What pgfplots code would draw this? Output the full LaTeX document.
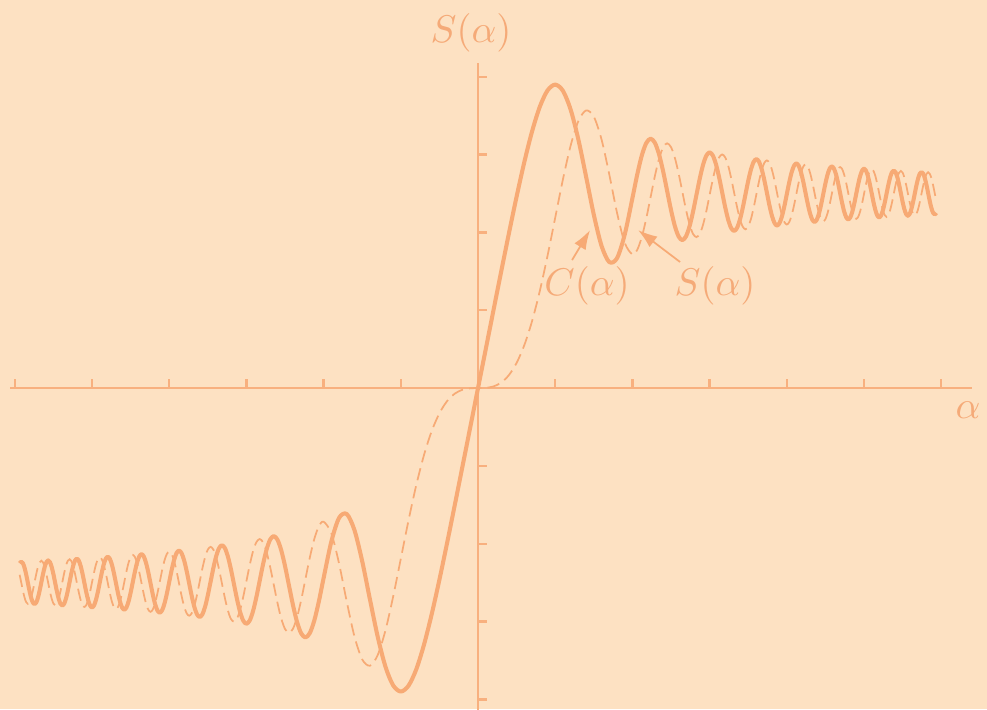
\documentclass[border=0pt]{standalone}
\usepackage{pgfplots}
\usepackage{pgfplotstable}
\pgfplotsset{compat=1.18}
\usetikzlibrary{backgrounds,arrows.meta}
\definecolor{bgcol}{RGB}{253,225,194}
\definecolor{linecol}{RGB}{247,170,117}
\definecolor{axiscol}{RGB}{248,176,127}
\definecolor{textcol}{RGB}{245,170,120}
\pgfplotstableread{
x C S
-5.9372 -0.4503 -0.4799
-5.9161 -0.4462 -0.5005
-5.8949 -0.4503 -0.5211
-5.8737 -0.4620 -0.5387
-5.8523 -0.4797 -0.5504
-5.8310 -0.5005 -0.5546
-5.8095 -0.5215 -0.5504
-5.7879 -0.5393 -0.5385
-5.7663 -0.5512 -0.5206
-5.7446 -0.5554 -0.4995
-5.7228 -0.5512 -0.4782
-5.7009 -0.5391 -0.4601
-5.6789 -0.5209 -0.4480
-5.6569 -0.4994 -0.4437
-5.6347 -0.4779 -0.4480
-5.6125 -0.4595 -0.4603
-5.5902 -0.4472 -0.4788
-5.5678 -0.4428 -0.5006
-5.5453 -0.4472 -0.5225
-5.5227 -0.4597 -0.5412
-5.5000 -0.4784 -0.5537
-5.4772 -0.5006 -0.5581
-5.4544 -0.5229 -0.5537
-5.4314 -0.5419 -0.5410
-5.4083 -0.5546 -0.5219
-5.3852 -0.5591 -0.4994
-5.3619 -0.5546 -0.4767
-5.3385 -0.5417 -0.4574
-5.3151 -0.5223 -0.4444
-5.2915 -0.4993 -0.4399
-5.2678 -0.4762 -0.4444
-5.2440 -0.4566 -0.4576
-5.2202 -0.4434 -0.4773
-5.1962 -0.4387 -0.5007
-5.1720 -0.4434 -0.5242
-5.1478 -0.4568 -0.5443
-5.1235 -0.4769 -0.5577
-5.0990 -0.5008 -0.5624
-5.0744 -0.5247 -0.5577
-5.0498 -0.5451 -0.5440
-5.0249 -0.5588 -0.5235
-5.0000 -0.5637 -0.4992
-4.9749 -0.5588 -0.4748
-4.9497 -0.5449 -0.4539
-4.9244 -0.5240 -0.4400
-4.8990 -0.4991 -0.4350
-4.8734 -0.4742 -0.4400
-4.8477 -0.4529 -0.4542
-4.8218 -0.4387 -0.4756
-4.7958 -0.4336 -0.5009
-4.7697 -0.4387 -0.5264
-4.7434 -0.4532 -0.5481
-4.7170 -0.4751 -0.5627
-4.6904 -0.5010 -0.5679
-4.6637 -0.5270 -0.5627
-4.6368 -0.5493 -0.5478
-4.6098 -0.5642 -0.5255
-4.5826 -0.5695 -0.4990
-4.5552 -0.5642 -0.4723
-4.5277 -0.5489 -0.4495
-4.5000 -0.5260 -0.4342
-4.4721 -0.4989 -0.4288
-4.4441 -0.4715 -0.4343
-4.4159 -0.4482 -0.4499
-4.3875 -0.4325 -0.4734
-4.3589 -0.4270 -0.5012
-4.3301 -0.4326 -0.5293
-4.3012 -0.4486 -0.5532
-4.2720 -0.4727 -0.5693
-4.2426 -0.5013 -0.5750
-4.2131 -0.5302 -0.5693
-4.1833 -0.5548 -0.5528
-4.1533 -0.5714 -0.5280
-4.1231 -0.5772 -0.4986
-4.0927 -0.5713 -0.4689
-4.0620 -0.5543 -0.4435
-4.0311 -0.5288 -0.4265
-4.0000 -0.4984 -0.4204
-3.9686 -0.4678 -0.4265
-3.9370 -0.4417 -0.4440
-3.9051 -0.4240 -0.4704
-3.8730 -0.4178 -0.5017
-3.8406 -0.4241 -0.5334
-3.8079 -0.4422 -0.5604
-3.7749 -0.4695 -0.5786
-3.7417 -0.5019 -0.5851
-3.7081 -0.5347 -0.5786
-3.6742 -0.5627 -0.5598
-3.6401 -0.5816 -0.5315
-3.6056 -0.5883 -0.4978
-3.5707 -0.5815 -0.4638
-3.5355 -0.5620 -0.4347
-3.5000 -0.5326 -0.4151
-3.4641 -0.4976 -0.4081
-3.4278 -0.4621 -0.4152
-3.3912 -0.4318 -0.4355
-3.3541 -0.4113 -0.4662
-3.3166 -0.4040 -0.5028
-3.2787 -0.4114 -0.5398
-3.2404 -0.4327 -0.5716
-3.2016 -0.4648 -0.5930
-3.1623 -0.5032 -0.6004
-3.1225 -0.5419 -0.5926
-3.0822 -0.5752 -0.5704
-3.0414 -0.5977 -0.5366
-3.0000 -0.6057 -0.4963
-2.9580 -0.5976 -0.4554
-2.9155 -0.5741 -0.4203
-2.8723 -0.5384 -0.3965
-2.8284 -0.4956 -0.3880
-2.7839 -0.4522 -0.3966
-2.7386 -0.4148 -0.4216
-2.6926 -0.3894 -0.4597
-2.6458 -0.3804 -0.5053
-2.5981 -0.3897 -0.5518
-2.5495 -0.4165 -0.5919
-2.5000 -0.4574 -0.6192
-2.4495 -0.5067 -0.6290
-2.3979 -0.5569 -0.6189
-2.3452 -0.6005 -0.5898
-2.2913 -0.6302 -0.5452
-2.2361 -0.6409 -0.4914
-2.1794 -0.6298 -0.4361
-2.1213 -0.5977 -0.3881
-2.0616 -0.5482 -0.3551
-2.0 -0.48825 -0.34342
-1.9 -0.39447 -0.37335
-1.8 -0.33363 -0.45094
-1.7 -0.32383 -0.54920
-1.6 -0.36546 -0.63889
-1.5 -0.44526 -0.69750
-1.4 -0.54310 -0.71353
-1.3 -0.63855 -0.68633
-1.2 -0.71544 -0.62340
-1.1 -0.76381 -0.53650
-1.0 -0.77989 -0.43826
-0.9 -0.76482 -0.33976
-0.8 -0.72284 -0.24934
-0.7 -0.65965 -0.17215
-0.6 -0.58110 -0.11054
-0.5 -0.49234 -0.06473
-0.4 -0.39748 -0.03336
-0.3 -0.29940 -0.01412
-0.2 -0.19992 -0.00419
-0.1 -0.09999 -0.00052
0.0 0.0 0.0
0.1 0.09999 0.00052
0.2 0.19992 0.00419
0.3 0.29940 0.01412
0.4 0.39748 0.03336
0.5 0.49234 0.06473
0.6 0.58110 0.11054
0.7 0.65965 0.17215
0.8 0.72284 0.24934
0.9 0.76482 0.33976
1.0 0.77989 0.43826
1.1 0.76381 0.53650
1.2 0.71544 0.62340
1.3 0.63855 0.68633
1.4 0.54310 0.71353
1.5 0.44526 0.69750
1.6 0.36546 0.63889
1.7 0.32383 0.54920
1.8 0.33363 0.45094
1.9 0.39447 0.37335
2.0 0.48825 0.34342
2.0616 0.5482 0.3551
2.1213 0.5977 0.3881
2.1794 0.6298 0.4361
2.2361 0.6409 0.4914
2.2913 0.6302 0.5452
2.3452 0.6005 0.5898
2.3979 0.5569 0.6189
2.4495 0.5067 0.6290
2.5000 0.4574 0.6192
2.5495 0.4165 0.5919
2.5981 0.3897 0.5518
2.6458 0.3804 0.5053
2.6926 0.3894 0.4597
2.7386 0.4148 0.4216
2.7839 0.4522 0.3966
2.8284 0.4956 0.3880
2.8723 0.5384 0.3965
2.9155 0.5741 0.4203
2.9580 0.5976 0.4554
3.0000 0.6057 0.4963
3.0414 0.5977 0.5366
3.0822 0.5752 0.5704
3.1225 0.5419 0.5926
3.1623 0.5032 0.6004
3.2016 0.4648 0.5930
3.2404 0.4327 0.5716
3.2787 0.4114 0.5398
3.3166 0.4040 0.5028
3.3541 0.4113 0.4662
3.3912 0.4318 0.4355
3.4278 0.4621 0.4152
3.4641 0.4976 0.4081
3.5000 0.5326 0.4151
3.5355 0.5620 0.4347
3.5707 0.5815 0.4638
3.6056 0.5883 0.4978
3.6401 0.5816 0.5315
3.6742 0.5627 0.5598
3.7081 0.5347 0.5786
3.7417 0.5019 0.5851
3.7749 0.4695 0.5786
3.8079 0.4422 0.5604
3.8406 0.4241 0.5334
3.8730 0.4178 0.5017
3.9051 0.4240 0.4704
3.9370 0.4417 0.4440
3.9686 0.4678 0.4265
4.0000 0.4984 0.4204
4.0311 0.5288 0.4265
4.0620 0.5543 0.4435
4.0927 0.5713 0.4689
4.1231 0.5772 0.4986
4.1533 0.5714 0.5280
4.1833 0.5548 0.5528
4.2131 0.5302 0.5693
4.2426 0.5013 0.5750
4.2720 0.4727 0.5693
4.3012 0.4486 0.5532
4.3301 0.4326 0.5293
4.3589 0.4270 0.5012
4.3875 0.4325 0.4734
4.4159 0.4482 0.4499
4.4441 0.4715 0.4343
4.4721 0.4989 0.4288
4.5000 0.5260 0.4342
4.5277 0.5489 0.4495
4.5552 0.5642 0.4723
4.5826 0.5695 0.4990
4.6098 0.5642 0.5255
4.6368 0.5493 0.5478
4.6637 0.5270 0.5627
4.6904 0.5010 0.5679
4.7170 0.4751 0.5627
4.7434 0.4532 0.5481
4.7697 0.4387 0.5264
4.7958 0.4336 0.5009
4.8218 0.4387 0.4756
4.8477 0.4529 0.4542
4.8734 0.4742 0.4400
4.8990 0.4991 0.4350
4.9244 0.5240 0.4400
4.9497 0.5449 0.4539
4.9749 0.5588 0.4748
5.0000 0.5637 0.4992
5.0249 0.5588 0.5235
5.0498 0.5451 0.5440
5.0744 0.5247 0.5577
5.0990 0.5008 0.5624
5.1235 0.4769 0.5577
5.1478 0.4568 0.5443
5.1720 0.4434 0.5242
5.1962 0.4387 0.5007
5.2202 0.4434 0.4773
5.2440 0.4566 0.4576
5.2678 0.4762 0.4444
5.2915 0.4993 0.4399
5.3151 0.5223 0.4444
5.3385 0.5417 0.4574
5.3619 0.5546 0.4767
5.3852 0.5591 0.4994
5.4083 0.5546 0.5219
5.4314 0.5419 0.5410
5.4544 0.5229 0.5537
5.4772 0.5006 0.5581
5.5000 0.4784 0.5537
5.5227 0.4597 0.5412
5.5453 0.4472 0.5225
5.5678 0.4428 0.5006
5.5902 0.4472 0.4788
5.6125 0.4595 0.4603
5.6347 0.4779 0.4480
5.6569 0.4994 0.4437
5.6789 0.5209 0.4480
5.7009 0.5391 0.4601
5.7228 0.5512 0.4782
5.7446 0.5554 0.4995
5.7663 0.5512 0.5206
5.7879 0.5393 0.5385
5.8095 0.5215 0.5504
5.8310 0.5005 0.5546
5.8523 0.4797 0.5504
5.8737 0.4620 0.5387
5.8949 0.4503 0.5211
5.9161 0.4462 0.5005
5.9372 0.4503 0.4799
}\fresnel
\begin{document}
\begin{tikzpicture}
\begin{axis}[
  x=20pt, y=100.8pt,
  axis lines=middle,
  axis line style={-, draw=axiscol, line width=0.7pt},
  xmin=-6.06, xmax=6.40, ymin=-0.84, ymax=0.835,
  xtick={-6,-5,-4,-3,-2,-1,1,2,3,4,5,6},
  ytick={-0.8,-0.6,-0.4,-0.2,0.2,0.4,0.6,0.8},
  xticklabels={}, yticklabels={},
  tick align=inside,
  major tick length=2.4pt,
  tick style={draw=axiscol, line width=0.6pt},
  clip=false,
]
\addplot[draw=linecol, line width=0.45pt, dash pattern=on 3.2pt off 1.6pt, smooth] table[x=x, y=S] {\fresnel};
\addplot[draw=linecol, line width=1.05pt, line join=round, smooth] table[x=x, y=C] {\fresnel};
\node[text=textcol] at (axis cs:-0.091,0.913) {$S(\alpha)$};
\node[text=textcol] at (axis cs:6.347,-0.0566) {$\alpha$};
\node[text=textcol] at (axis cs:1.412,0.262) {$C(\alpha)$};
\node[text=textcol] at (axis cs:3.070,0.262) {$S(\alpha)$};
\draw[draw=linecol, line width=0.45pt, -{Latex[length=5pt,width=3.4pt]}] (axis cs:1.218,0.329) -- (axis cs:1.451,0.406);
\draw[draw=linecol, line width=0.45pt, -{Latex[length=5pt,width=3.4pt]}] (axis cs:2.617,0.324) -- (axis cs:2.073,0.406);
\coordinate (BL) at (axis cs:-6.192,-0.825);
\coordinate (TR) at (axis cs:6.593,0.9974);
\end{axis}
\pgfresetboundingbox
\useasboundingbox (BL) rectangle (TR);
\begin{scope}[on background layer]
\fill[bgcol] (BL) rectangle (TR);
\end{scope}
\end{tikzpicture}
\end{document}
